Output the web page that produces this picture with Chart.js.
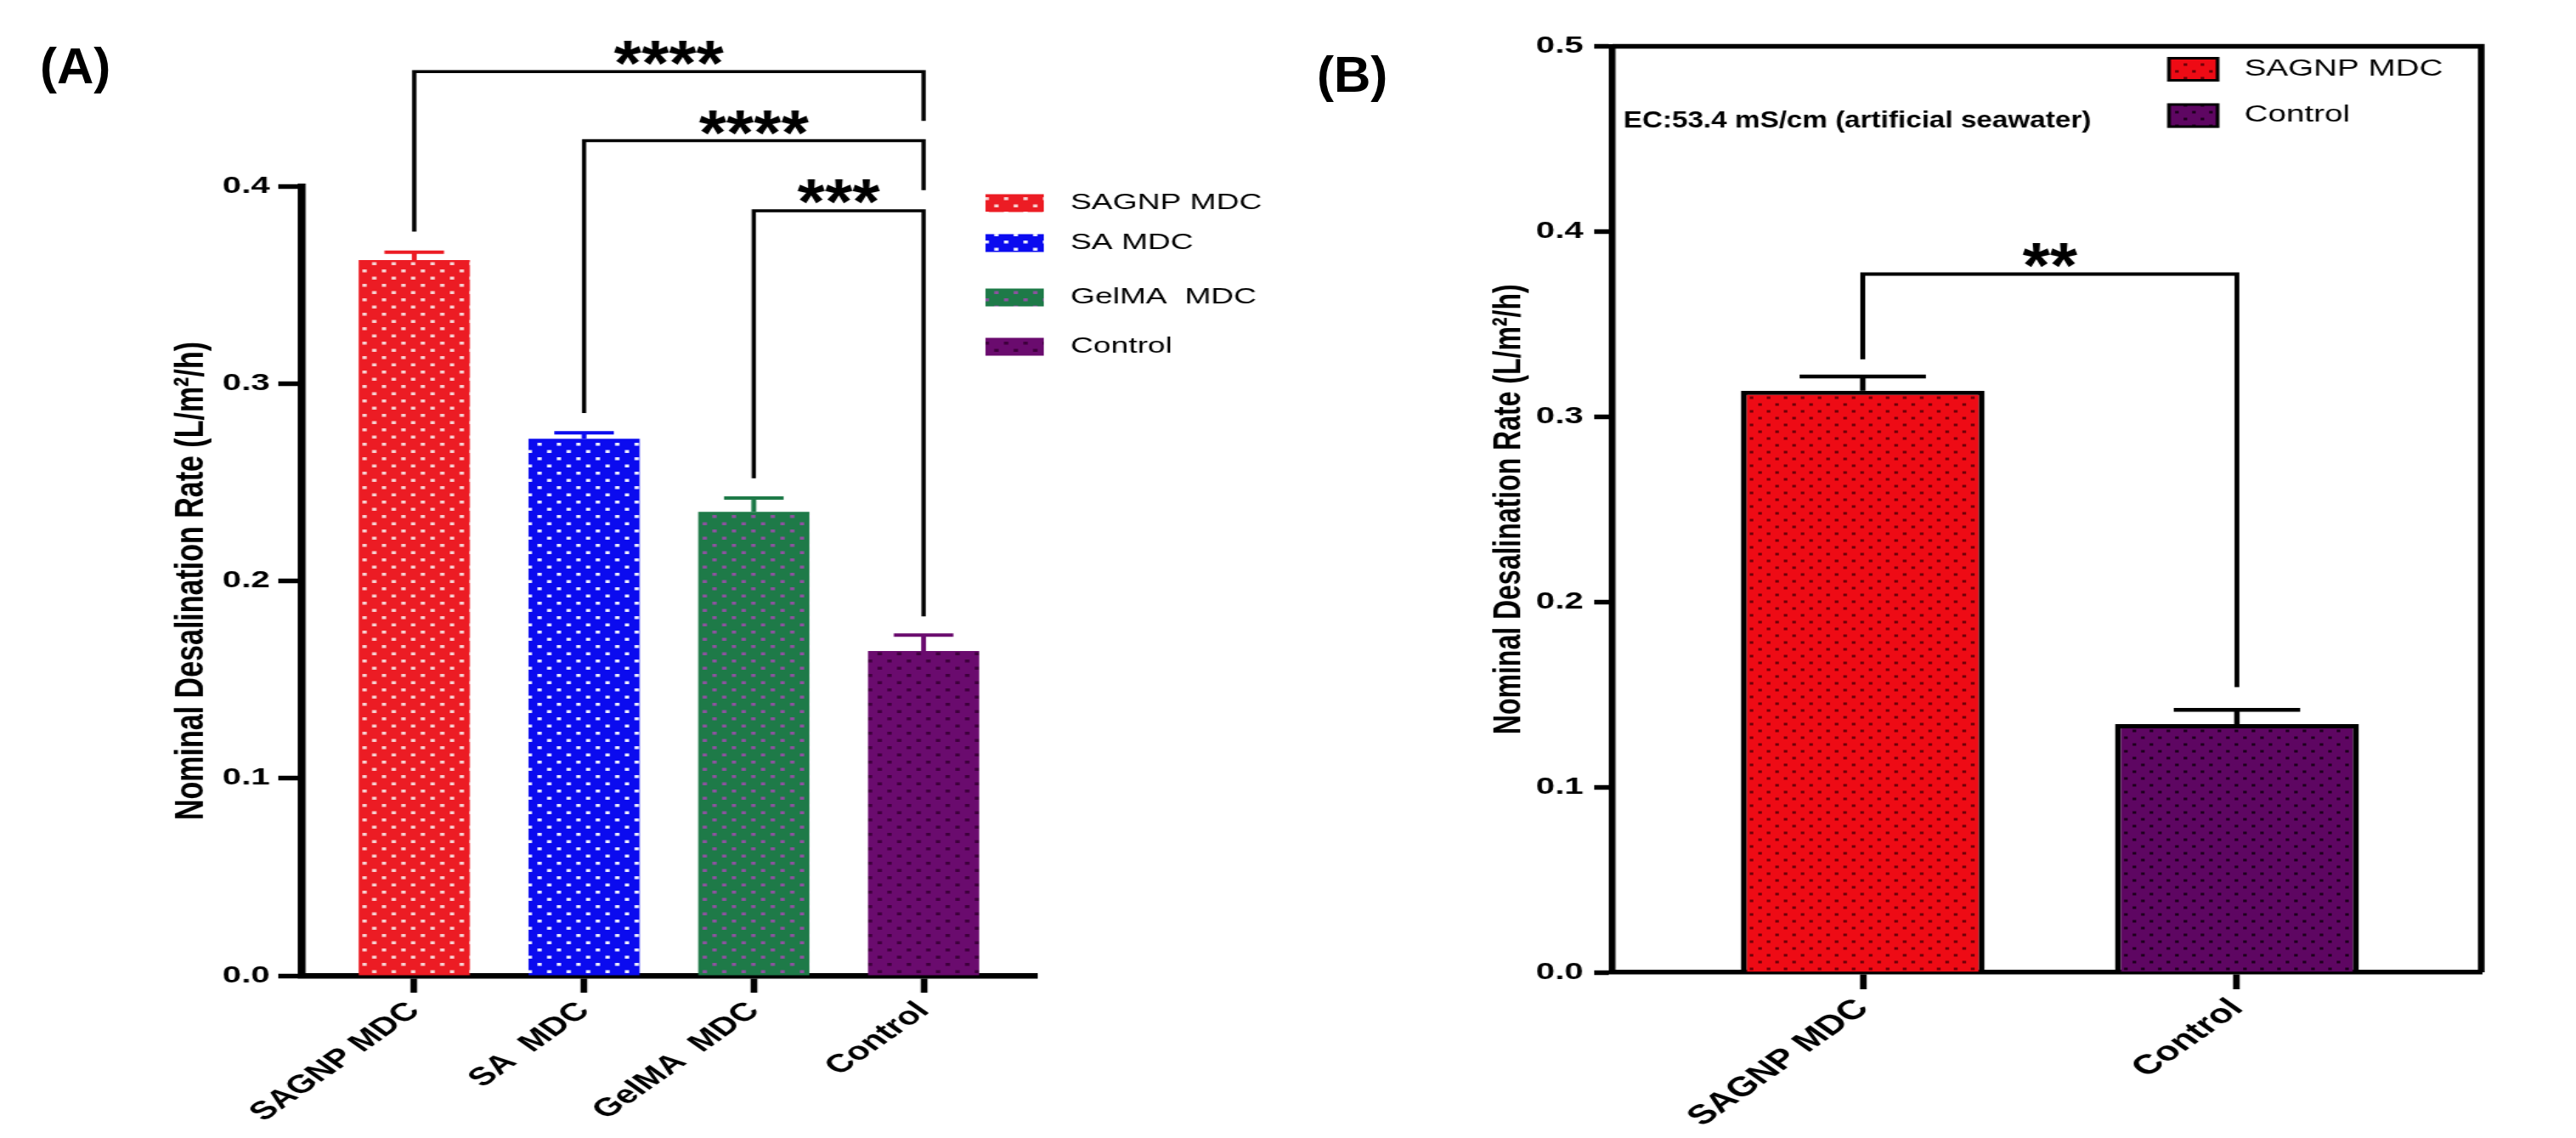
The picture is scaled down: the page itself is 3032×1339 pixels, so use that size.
<!DOCTYPE html>
<html>
<head>
<meta charset="utf-8">
<script src="https://cdn.jsdelivr.net/npm/chart.js@4.4.1/dist/chart.umd.min.js"></script>
<style>
html,body{margin:0;padding:0;background:#fff;overflow:hidden}
#wrap{position:relative;width:3032px;height:1339px}
canvas{position:absolute;top:0}
.tag{position:absolute;font:bold 60px "Liberation Sans",Arial,sans-serif;line-height:1;color:#000}
</style>
</head>
<body>
<div id="wrap">
  <canvas id="cA" width="1060" height="1339" style="left:0;width:1516px;height:1339px"></canvas>
  <canvas id="cB" width="1060" height="1339" style="left:1516px;width:1516px;height:1339px"></canvas>
  <div class="tag" style="left:47px;top:48px">(A)</div>
  <div class="tag" style="left:1550px;top:58px">(B)</div>
</div>
<script>
const FONT = '"Liberation Sans", Arial, sans-serif';
const Y_TITLE = 'Nominal Desalination Rate (L/m²/h)';

// panel A
const catsA = ['SAGNP MDC', 'SA  MDC', 'GelMA  MDC', 'Control'];
const legendA = ['SAGNP MDC', 'SA MDC', 'GelMA  MDC', 'Control'];
const valsA = [0.3625, 0.272, 0.235, 0.1645];
const errA = [0.004, 0.003, 0.007, 0.008];
const ticksA = [0, 0.1, 0.2, 0.3, 0.4];
const sigA = [
  {from:0, to:3, top:0.458, left:0.377, right:0.433, label:'****', ly:0.470},
  {from:1, to:3, top:0.423, left:0.285, right:0.398, label:'****', ly:0.435},
  {from:2, to:3, top:0.3875, left:0.252, right:0.182, label:'***', ly:0.400},
];

// panel B
const catsB = ['SAGNP MDC', 'Control'];
const valsB = [0.314, 0.134];
const errB = [0.0077, 0.0077];
const ticksB = [0, 0.1, 0.2, 0.3, 0.4, 0.5];
const sigB = [
  {from:0, to:1, top:0.377, left:0.331, right:0.154, label:'**', ly:0.39},
];

function dots(bg, dot, w, h, d){
  const c = document.createElement('canvas');
  c.width = w; c.height = h;
  const g = c.getContext('2d');
  g.fillStyle = bg; g.fillRect(0, 0, w, h);
  g.fillStyle = dot;
  g.fillRect(w/4 - d/2, h/4 - d/2, d, d);
  g.fillRect(3*w/4 - d/2, 3*h/4 - d/2, d, d);
  return g.createPattern(c, 'repeat');
}

const fillA = [
  dots('#EC1C24', '#F8D4D4', 16, 17, 3.5),
  dots('#0B0BEF', '#F0F0FF', 16, 17, 3.5),
  dots('#1E7A48', '#8E52A0', 16, 17, 3.5),
  dots('#6A0B6E', '#3E003C', 16, 17, 3.5),
];
const lineA = ['#EC1C24', '#0B0BEF', '#1E7A48', '#6A0B6E'];
const fillB = [
  dots('#EE0B15', '#700008', 14, 16, 3),
  dots('#5E0662', '#1E001E', 14, 16, 3),
];

const deco = {
  id: 'deco',
  afterDatasetsDraw(chart, args, o){
    const {ctx, chartArea:a} = chart;
    const x = chart.scales.x, y = chart.scales.y;
    ctx.save();
    if (o.frame){
      ctx.strokeStyle = '#000'; ctx.lineWidth = o.frame;
      ctx.beginPath();
      ctx.moveTo(a.left, a.top); ctx.lineTo(a.right, a.top); ctx.lineTo(a.right, a.bottom);
      ctx.stroke();
    }
    // error bars
    o.err.forEach((e, i) => {
      const px = x.getPixelForValue(i);
      const p0 = y.getPixelForValue(o.vals[i]);
      const p1 = y.getPixelForValue(o.vals[i] + e);
      ctx.strokeStyle = o.errColor[i]; ctx.lineWidth = o.errW;
      ctx.beginPath();
      ctx.moveTo(px, p0); ctx.lineTo(px, p1);
      ctx.moveTo(px - o.capW/2, p1); ctx.lineTo(px + o.capW/2, p1);
      ctx.stroke();
    });
    // significance brackets
    ctx.strokeStyle = '#000'; ctx.lineWidth = o.brW; ctx.lineJoin = 'miter';
    ctx.fillStyle = '#000';
    ctx.font = 'bold 58px ' + FONT;
    ctx.textAlign = 'center'; ctx.textBaseline = 'alphabetic';
    o.sig.forEach(s => {
      const x0 = x.getPixelForValue(s.from), x1 = x.getPixelForValue(s.to);
      ctx.beginPath();
      ctx.moveTo(x0, y.getPixelForValue(s.left));
      ctx.lineTo(x0, y.getPixelForValue(s.top));
      ctx.lineTo(x1, y.getPixelForValue(s.top));
      ctx.lineTo(x1, y.getPixelForValue(s.right));
      ctx.stroke();
      // taller asterisks, centred on ly
      ctx.save();
      ctx.translate((x0 + x1) / 2, y.getPixelForValue(s.ly) + 44);
      ctx.scale(1, 1.3);
      ctx.fillText(s.label, 0, 0);
      ctx.restore();
    });
    // legend
    const L = o.legend;
    ctx.textAlign = 'left'; ctx.textBaseline = 'middle';
    ctx.font = L.size + 'px ' + FONT;
    L.items.forEach((t, i) => {
      const cy = L.ys[i];
      ctx.fillStyle = L.fills[i];
      ctx.fillRect(L.x, cy - L.h/2, L.w, L.h);
      if (L.stroke){
        ctx.strokeStyle = '#000'; ctx.lineWidth = L.stroke;
        ctx.strokeRect(L.x, cy - L.h/2, L.w, L.h);
      }
      ctx.fillStyle = '#000';
      ctx.fillText(t, L.textX, cy);
    });
    // note text
    if (o.note){
      ctx.save();
      ctx.font = 'bold 28px ' + FONT;
      ctx.translate(o.note.x, o.note.y);
      ctx.scale(0.83, 1);
      ctx.fillText(o.note.text, 0, 0);
      ctx.restore();
    }
    ctx.restore();
  }
};

function makeChart(id, p){
  return new Chart(document.getElementById(id), {
    type: 'bar',
    data: {
      datasets: [{
        data: p.cats.map((c, i) => ({x: i, y: p.vals[i]})),
        backgroundColor: p.fills,
        borderColor: '#000',
        borderWidth: p.barBorder,
        borderSkipped: 'bottom',
        barPercentage: p.barPct,
        categoryPercentage: 1
      }]
    },
    options: {
      responsive: false,
      animation: false,
      events: [],
      devicePixelRatio: 1,
      layout: {padding: p.pad},
      plugins: {
        legend: {display: false},
        tooltip: {enabled: false},
        deco: p.deco
      },
      scales: {
        x: {
          type: 'linear', min: p.xMin, max: p.xMax, offset: false,
          afterBuildTicks: s => { s.ticks = p.cats.map((c, i) => ({value: i})); },
          afterFit: s => { s.height = p.xH; },
          grid: {offset: false, drawOnChartArea: false, tickLength: 20, tickWidth: 5.5, tickColor: '#000'},
          border: {color: '#000', width: p.axisW},
          ticks: {autoSkip: false, minRotation: 45, maxRotation: 45, padding: 4, color: '#000',
            font: {family: FONT, size: p.xFont, weight: 'bold'},
            callback: v => p.cats[Math.round(v)]}
        },
        y: {
          min: 0, max: p.ticks[p.ticks.length - 1],
          afterBuildTicks: s => { s.ticks = p.ticks.map(v => ({value: v})); },
          afterFit: s => { s.width = p.yW; },
          grid: {drawOnChartArea: false, tickLength: p.yTick, tickWidth: 5.5, tickColor: '#000'},
          border: {color: '#000', width: p.axisW},
          ticks: {padding: p.yPad, color: '#000', font: {family: FONT, size: 28, weight: 'bold'},
            callback: v => v.toFixed(1)},
          title: {display: true, text: Y_TITLE, color: '#000',
            font: {family: FONT, size: p.titleSize, weight: 'bold'},
            padding: {top: p.titlePad, bottom: 0}}
        }
      }
    },
    plugins: [deco]
  });
}

makeChart('cA', {
  cats: catsA, vals: valsA, ticks: ticksA, fills: fillA, barBorder: 0, barPct: 0.655,
  pad: {top: 219, right: 207, left: 0, bottom: 0},
  xMin: -0.665, xMax: 3.665, xH: 191, xFont: 30, axisW: 6.5,
  yW: 248, yTick: 19, yPad: 7, titleSize: 34, titlePad: 137,
  deco: {
    err: errA, vals: valsA, errColor: lineA, errW: 4, capW: 49, brW: 3.5, sig: sigA,
    legend: {items: legendA, fills: fillA, x: 811, w: 48, h: 21, textX: 881, ys: [239, 286, 350, 408], size: 26}
  }
});

makeChart('cB', {
  cats: catsB, vals: valsB, ticks: ticksB, fills: fillB, barBorder: 5, barPct: 0.652,
  pad: {top: 54.5, right: 78, left: 0, bottom: 0},
  xMin: -0.669, xMax: 1.653, xH: 195, xFont: 32, axisW: 5.5,
  yW: 267, yTick: 15, yPad: 9, titleSize: 32, titlePad: 163,
  deco: {
    frame: 5.5,
    err: errB, vals: valsB, errColor: ['#000', '#000'], errW: 4.5, capW: 104, brW: 4, sig: sigB,
    legend: {items: catsB, fills: fillB, stroke: 3, x: 725, w: 40, h: 26, textX: 787, ys: [81.5, 136], size: 27},
    note: {text: 'EC:53.4 mS/cm (artificial seawater)', x: 276, y: 142}
  }
});
</script>
</body>
</html>
